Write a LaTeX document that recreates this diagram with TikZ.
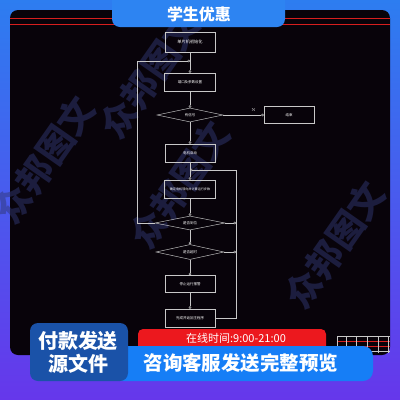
\documentclass[tikz,border=0pt]{standalone}
\usepackage{fontspec}
\newfontfamily\cjk{Noto Sans CJK SC}
\usetikzlibrary{shapes.geometric,arrows.meta}
\definecolor{bgtop}{RGB}{45,125,240}
\definecolor{bgbot}{RGB}{102,55,235}
\definecolor{panel}{RGB}{8,3,10}
\definecolor{cadred}{RGB}{215,30,30}
\definecolor{flowline}{RGB}{200,200,200}
\definecolor{mark}{RGB}{48,55,115}
\definecolor{tabblue}{RGB}{45,132,242}
\definecolor{redbar}{RGB}{236,24,30}
\definecolor{bluebar}{RGB}{22,126,246}
\definecolor{darkbar}{RGB}{26,82,168}
\tikzset{
  flowbox/.style={draw=flowline, line width=0.45pt, minimum width=50pt, minimum height=18pt,
    inner sep=0pt, text=white, font=\cjk\fontsize{3.5}{4}\selectfont},
  flowdia/.style={draw=flowline, line width=0.45pt, diamond, aspect=4.8, minimum width=68pt,
    minimum height=14pt, inner sep=0pt, text=white, font=\cjk\fontsize{3.5}{4}\selectfont},
  flow/.style={draw=flowline, line width=0.45pt, -{Circle[open,length=2.6pt,width=2.6pt]}},
  stamp/.style={text=mark, opacity=0.5, rotate=55, font=\cjk\bfseries\fontsize{36}{36}\selectfont},
  bartext/.style={text=white, font=\cjk\bfseries\fontsize{#1}{#1}\selectfont},
}
\begin{document}
\begin{tikzpicture}[x=1pt,y=-1pt]
\useasboundingbox (0,0) rectangle (400,400);
% background and black drawing sheet
\shade[top color=bgtop, bottom color=bgbot] (0,0) rectangle (400,400);
\fill[panel, rounded corners=8pt] (10,10) rectangle (390,355);
\draw[cadred, line width=0.7pt] (10,18) -- (390,18);
\draw[cadred, line width=0.7pt] (10,24) -- (390,24);
% title block, bottom right
\draw[cadred, line width=0.4pt] (337,341) -- (390,341) (337,346) -- (390,346);
\draw[flowline, line width=0.4pt] (337,336) -- (390,336) (337,351) -- (390,351);
\foreach \gx in {337,346,356,367,378,388}
  \draw[flowline, line width=0.4pt] (\gx,336) -- (\gx,353);
% watermarks
\node[stamp] (m1) at (150,75) {众邦图文};
\node[stamp] (m2) at (180,185) {众邦图文};
\node[stamp] (m3) at (335,245) {众邦图文};
\node[stamp] (m4) at (45,160) {众邦图文};
% flow chart
\node[flowbox, minimum height=20pt, font=\cjk\fontsize{4.2}{5}\selectfont] (b1) at (190,42) {单片机初始化};
\node[flowbox, minimum width=51pt] (b2) at (190,82) {端口及参数设置};
\node[flowdia, minimum width=66pt] (d1) at (190,115) {有信号};
\node[flowbox, minimum height=17pt] (r1) at (289,115) {结束};
\node[flowbox] (b3) at (190,153) {电机启动};
\node[flowbox, minimum width=51pt, font=\cjk\fontsize{3.1}{4}\selectfont] (b4) at (190,189) {确定电机转向并计算运行步数};
\node[flowdia, minimum width=70pt] (d2) at (190,223) {是否到位};
\node[flowdia, minimum height=15pt] (d3) at (190,252) {是否超时};
\node[flowbox, minimum height=17pt] (b5) at (190,284) {停止运行报警};
\node[flowbox] (b6) at (190,318) {完成并返回主程序};
\coordinate (jt) at (190,61);
\coordinate (jm) at (190,170);
\coordinate (rt) at (236,318);
\draw[flow] (b1) -- (b2);
\draw[flow] (b2) -- (d1);
\draw[flow] (d1) -- (b3);
\draw[flow] (d1) -- node[above, pos=0.75, text=white, font=\fontsize{4}{4}\selectfont] {N} (r1);
\draw[flow] (b3) -- (b4);
\draw[flow] (b4) -- (d2);
\draw[flow] (d2) -- (d3);
\draw[flow] (d3) -- (b5);
\draw[flow] (b5) -- (b6);
\draw[flow] (d2.west) -- ++(-18,0) |- (jt);
\draw[flow] (b6.east) -- (rt) |- (jm);
\draw[flow] (d2.east) -- (rt |- d2);
\draw[flow] (d3.east) -- (rt |- d3);
% top tab
\fill[tabblue, rounded corners=8pt] (112,-12) rectangle (285,27);
\node[bartext=16] (tab) at (199,14) {学生优惠};
% bottom banners
\fill[redbar, rounded corners=5pt] (138,329) rectangle (326,352);
\node[bartext=11, font=\cjk\fontsize{11}{11}\selectfont] (hours) at (236,338) {在线时间:9:00-21:00};
\fill[bluebar, rounded corners=10pt] (110,346) rectangle (373,381);
\node[bartext=19.5] (ask) at (241,363) {咨询客服发送完整预览};
\fill[darkbar, rounded corners=8pt] (30,323) rectangle (128,381);
\node[bartext=20, align=center] (pay) at (78,352) {付款发送\\[3pt]源文件};
\end{tikzpicture}
\end{document}
